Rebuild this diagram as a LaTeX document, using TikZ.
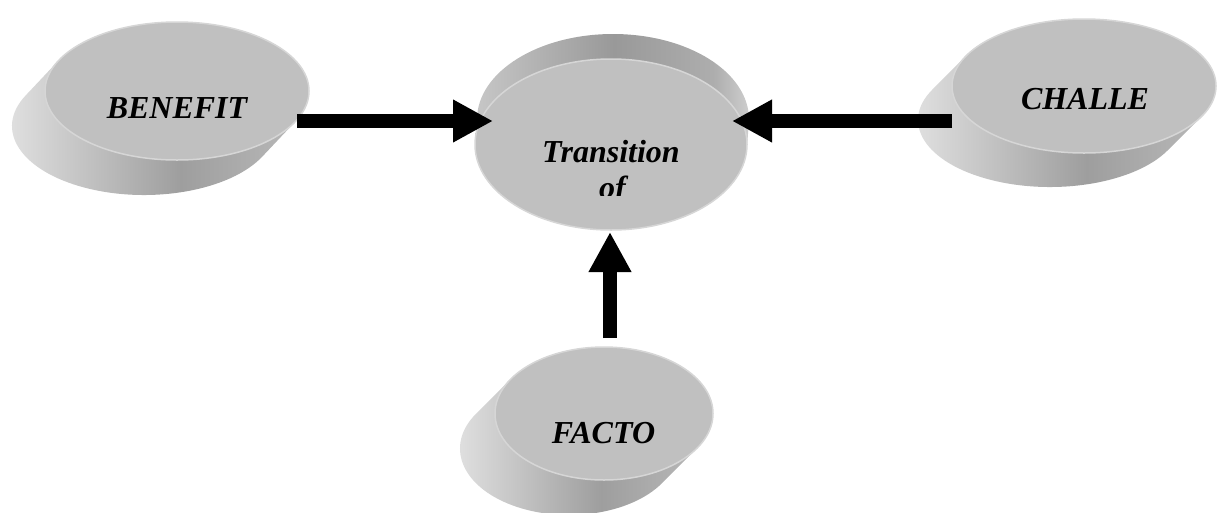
\documentclass[tikz,border=0pt]{standalone}
\usepackage{fontspec}
\setmainfont{Liberation Serif}
\usetikzlibrary{shapes.geometric,arrows.meta,calc}
\definecolor{facegray}{HTML}{C0C0C0}
\definecolor{rimgray}{HTML}{D6D6D6}
\definecolor{sl}{gray}{0.90}
\definecolor{sd}{gray}{0.62}
\definecolor{sm}{gray}{0.72}
\definecolor{tl}{gray}{0.78}
\definecolor{td}{gray}{0.60}
\definecolor{tm}{gray}{0.68}
\definecolor{te}{gray}{0.82}
\pgfdeclarehorizontalshading{sidegrad}{100bp}{color(0bp)=(sl); color(25bp)=(sl); color(56bp)=(sd); color(75bp)=(sm); color(100bp)=(sm)}
\pgfdeclarehorizontalshading{topgrad}{100bp}{color(0bp)=(tl); color(25bp)=(tl); color(50bp)=(td); color(68bp)=(tm); color(75bp)=(te); color(100bp)=(te)}
\tikzset{
  face/.style={ellipse, fill=facegray, draw=rimgray, line width=1.5pt, inner sep=0pt, outer sep=0pt},
  sidepart/.style={shading=sidegrad},
  toppart/.style={shading=topgrad},
  txt/.style={font=\bfseries\itshape\fontsize{32}{34}\selectfont, inner sep=0pt, anchor=base},
  bigarrow/.style={line width=13.5pt, line cap=butt, -{Triangle[width=40pt,length=40pt]}}
}
\begin{document}
\begin{tikzpicture}[x=1pt,y=-1pt]
\useasboundingbox (0,0) rectangle (1218,512);
\coordinate (bC) at (177,91);
\coordinate (cC) at (1084,86);
\coordinate (fC) at (604,413.5);
\coordinate (tC) at (611,144.5);

% BENEFIT disc
\path[sidepart] ($(bC)+(26.24:132 and 69)$) -- ++(-33,35)
  arc[start angle=26.24, end angle=206.24, x radius=132, y radius=69]
  -- ($(bC)+(206.24:132 and 69)$) -- cycle;
\node[face, minimum width=264pt, minimum height=138pt] (benefit) at (bC) {};
\node[txt] (benefitT) at (177,118) {BENEFIT};

% CHALLE disc
\path[sidepart] ($(cC)+(26.91:132 and 67)$) -- ++(-34,34)
  arc[start angle=26.91, end angle=206.91, x radius=132, y radius=67]
  -- ($(cC)+(206.91:132 and 67)$) -- cycle;
\node[face, minimum width=264pt, minimum height=134pt] (challenge) at (cC) {};
\node[txt] (challengeT) at (1085,109) {CHALLE};

% FACTO disc
\path[sidepart] ($(fC)+(31.39:109 and 66.5)$) -- ++(-35,35)
  arc[start angle=31.39, end angle=211.39, x radius=109, y radius=66.5]
  -- ($(fC)+(211.39:109 and 66.5)$) -- cycle;
\node[face, minimum width=218pt, minimum height=133pt] (factor) at (fC) {};
\node[txt] (factorT) at (603.5,443) {FACTO};

% Transition disc
\path[toppart] ($(tC)+(2.88:136 and 85.5)$) -- ++(2,-25)
  arc[start angle=2.88, end angle=-177.12, x radius=136, y radius=85.5]
  -- ($(tC)+(-177.12:136 and 85.5)$) -- cycle;
\node[face, minimum width=272pt, minimum height=171pt] (trans) at (tC) {};
\begin{scope}
  \clip (400,0) rectangle (800,195.5);
  \node[txt] (transT1) at (611,162) {Transition};
  \node[txt] (transT2) at (612.5,198) {of};
\end{scope}

% arrows
\draw[bigarrow] ($(benefit.center)+(120,30)$) -- ($(trans.center)+(-118,-23.5)$);
\draw[bigarrow] ($(challenge.center)+(-132,35)$) -- ($(trans.center)+(121,-23.5)$);
\draw[bigarrow] ($(factor.center)+(6,-75.5)$) -- ($(trans.center)+(-1,87.5)$);
\end{tikzpicture}
\end{document}
